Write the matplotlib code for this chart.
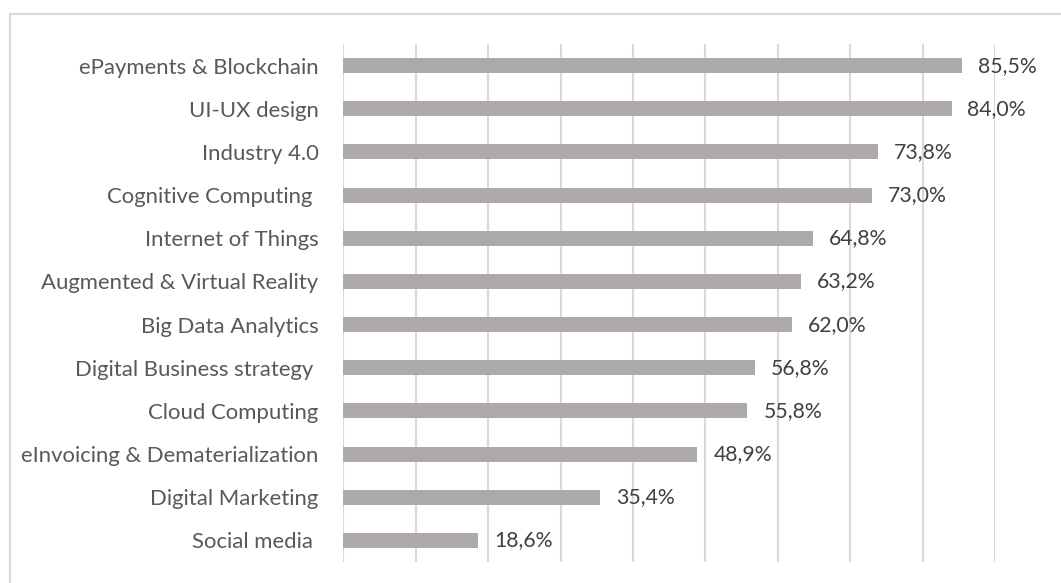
import matplotlib.pyplot as plt
from matplotlib.patches import Rectangle

# share of respondents per digital topic
topics = [
    "ePayments & Blockchain",
    "UI-UX design",
    "Industry 4.0",
    "Cognitive Computing ",
    "Internet of Things",
    "Augmented & Virtual Reality",
    "Big Data Analytics",
    "Digital Business strategy ",
    "Cloud Computing",
    "eInvoicing & Dematerialization",
    "Digital Marketing",
    "Social media ",
]
shares = [85.5, 84.0, 73.8, 73.0, 64.8, 63.2, 62.0, 56.8, 55.8, 48.9, 35.4, 18.6]

plt.rcParams['font.family'] = ['Lato', 'DejaVu Sans']

fig = plt.figure(figsize=(10.61, 5.83), dpi=100)
ax = fig.add_axes([0.3237, 0.036, 0.6141, 0.8885])

# outer frame of the chart area
fig.patches.append(Rectangle((9.5 / 1061, -0.1), 1.2, 1 - 14.5 / 583 + 0.1,
                             transform=fig.transFigure, fill=False,
                             edgecolor='#d9d9d9', linewidth=1.5))

ypos = list(range(len(topics)))
ax.barh(ypos, shares, height=0.35, color='#aeaaaa', zorder=2)

for y, v in zip(ypos, shares):
    ax.text(v + 2.2, y, f"{v:.1f}%".replace('.', ','), va='center', ha='left',
            fontsize=15.3, color='#404040')

ax.set_xlim(0, 90)
ax.set_ylim(len(topics) - 0.5, -0.5)
ax.set_xticks(range(0, 91, 10))
ax.xaxis.grid(True, color='#d9d9d9', linewidth=1.5, zorder=0)
ax.tick_params(axis='x', length=0, labelbottom=False)
ax.tick_params(axis='y', length=0, pad=18, labelsize=15.9, labelcolor='#595959')
ax.set_yticks(ypos)
ax.set_yticklabels(topics)
for s in ax.spines.values():
    s.set_visible(False)

fig.savefig('out.png', dpi=100)
